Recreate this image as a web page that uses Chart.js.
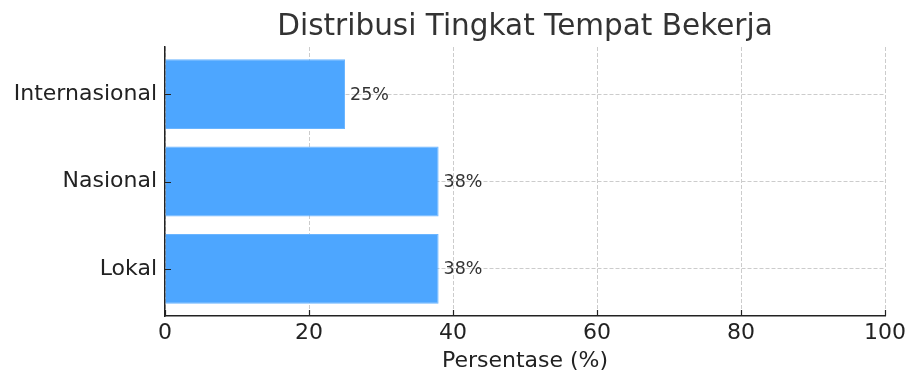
<!DOCTYPE html>
<html>
<head>
<meta charset="utf-8">
<script src="https://cdn.jsdelivr.net/npm/chart.js@4/dist/chart.umd.min.js"></script>
<style>
  html, body { margin: 0; padding: 0; background: #fff; }
  #wrap { width: 920px; height: 387px; }
</style>
</head>
<body>
<div id="wrap"><canvas id="chart" width="920" height="387"></canvas></div>
<script>
// data (bottom to top, like the picture)
const categories = ['Lokal', 'Nasional', 'Internasional'];
const percentages = [38, 38, 25];
const valueLabels = ['38%', '38%', '25%'];
const xTicks = [0, 20, 40, 60, 80, 100];

const FONT = "'DejaVu Sans', sans-serif";

// write the percentage just right of each bar
const barLabels = {
    id: 'barLabels',
    afterDatasetsDraw(chart) {
        const ctx = chart.ctx;
        const bars = chart.getDatasetMeta(0).data;
        ctx.save();
        ctx.font = '17.5px ' + FONT;
        ctx.fillStyle = '#333';
        ctx.textAlign = 'left';
        ctx.textBaseline = 'middle';
        bars.forEach((bar, i) => {
            ctx.fillText(valueLabels[i], bar.x + 5, bar.y + 1);
        });
        ctx.restore();
    }
};

// matplotlib style tick marks, pointing into the plot
const innerTicks = {
    id: 'innerTicks',
    afterDraw(chart) {
        const { ctx, chartArea, scales } = chart;
        const len = 6;
        ctx.save();
        ctx.strokeStyle = '#222';
        ctx.lineWidth = 1.2;
        ctx.beginPath();
        scales.x.ticks.forEach((t, i) => {
            const px = Math.round(scales.x.getPixelForTick(i)) + 0.5;
            ctx.moveTo(px, chartArea.bottom);
            ctx.lineTo(px, chartArea.bottom - len);
        });
        scales.y.ticks.forEach((t, i) => {
            const py = Math.round(scales.y.getPixelForTick(i)) + 0.5;
            ctx.moveTo(chartArea.left, py);
            ctx.lineTo(chartArea.left + len, py);
        });
        ctx.stroke();
        ctx.restore();
    }
};

const gridOpts = {
    color: '#cccccc',
    lineWidth: 1,
    offset: false,
    drawTicks: false
};

const ctx = document.getElementById('chart').getContext('2d');
new Chart(ctx, {
    type: 'bar',
    data: {
        datasets: [{
            data: percentages.map((v, i) => ({ x: v, y: i })),
            backgroundColor: '#4DA6FF',
            borderColor: '#6BB5FF',
            borderWidth: 1,
            categoryPercentage: 0.8,
            barPercentage: 1
        }]
    },
    options: {
        indexAxis: 'y',
        responsive: false,
        animation: false,
        layout: { padding: { left: 0, right: 35, top: 0, bottom: 13 } },
        plugins: {
            legend: { display: false },
            tooltip: { enabled: false },
            title: {
                display: true,
                text: 'Distribusi Tingkat Tempat Bekerja',
                fullSize: false,
                color: '#333',
                font: { family: FONT, size: 29.5, weight: 'normal' },
                padding: { top: 10, bottom: 1.6 }
            }
        },
        scales: {
            x: {
                type: 'linear',
                min: 0,
                max: 100,
                offset: false,
                z: 1,
                afterBuildTicks: axis => { axis.ticks = xTicks.map(v => ({ value: v })); },
                afterFit: axis => { axis.height = 58; },
                grid: gridOpts,
                border: { display: true, color: '#222', width: 1.5, dash: [4, 2] },
                ticks: {
                    color: '#222',
                    padding: 4,
                    font: { family: FONT, size: 22 }
                },
                title: {
                    display: true,
                    text: 'Persentase (%)',
                    color: '#222',
                    font: { family: FONT, size: 22 },
                    padding: { top: 0, bottom: 0 }
                }
            },
            y: {
                type: 'linear',
                min: -0.54,
                max: 2.54,
                offset: false,
                z: 1,
                afterBuildTicks: axis => { axis.ticks = categories.map((c, i) => ({ value: i })); },
                afterFit: axis => { axis.width = 165; },
                grid: gridOpts,
                border: { display: true, color: '#222', width: 1.5, dash: [4, 2] },
                ticks: {
                    color: '#222',
                    padding: 8,
                    font: { family: FONT, size: 22 },
                    callback: v => categories[v]
                }
            }
        }
    },
    plugins: [barLabels, innerTicks]
});
</script>
</body>
</html>
